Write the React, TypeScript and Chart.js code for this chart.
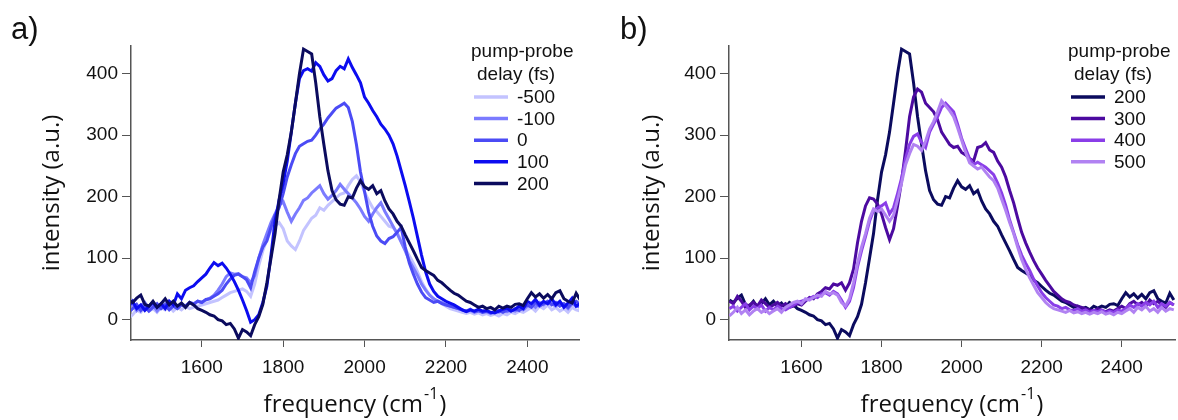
import React, { useEffect, useRef } from "react";
import { Chart, registerables } from "chart.js";

Chart.register(...registerables);

// frequency axis (cm^-1)
const freq = [
  1420, 1430, 1440, 1450, 1460, 1470, 1480, 1490, 1500, 1510,
  1520, 1530, 1540, 1550, 1560, 1570, 1580, 1590, 1600, 1610,
  1620, 1630, 1640, 1650, 1660, 1670, 1680, 1690, 1700, 1710,
  1720, 1730, 1740, 1750, 1760, 1770, 1780, 1790, 1800, 1810,
  1820, 1830, 1840, 1850, 1860, 1870, 1880, 1890, 1900, 1910,
  1920, 1930, 1940, 1950, 1960, 1970, 1980, 1990, 2000, 2010,
  2020, 2030, 2040, 2050, 2060, 2070, 2080, 2090, 2100, 2110,
  2120, 2130, 2140, 2150, 2160, 2170, 2180, 2190, 2200, 2210,
  2220, 2230, 2240, 2250, 2260, 2270, 2280, 2290, 2300, 2310,
  2320, 2330, 2340, 2350, 2360, 2370, 2380, 2390, 2400, 2410,
  2420, 2430, 2440, 2450, 2460, 2470, 2480, 2490, 2500, 2510,
  2520, 2530,
];

const delayM500 = [
  2, 8, 16, 12, 20, 14, 18, 12, 20, 16,
  22, 14, 20, 16, 22, 18, 20, 22, 24, 26,
  28, 30, 32, 36, 40, 44, 46, 48, 50, 46,
  38, 58, 88, 112, 130, 145, 152, 158, 148, 128,
  120, 114, 128, 145, 155, 165, 170, 182, 178, 186,
  192, 198, 204, 206, 218, 228, 234, 224, 208, 194,
  182, 176, 168, 160, 152, 150, 142, 128, 115, 104,
  92, 78, 62, 50, 40, 34, 30, 26, 22, 18,
  16, 14, 12, 10, 12, 9, 11, 8, 10, 7,
  9, 6, 10, 8, 12, 10, 14, 12, 16, 20,
  14, 22, 18, 24, 16, 20, 14, 18, 12, 20,
  16, 14,
];

const delayM100 = [
  20, 26, 15, 22, 28, 18, 24, 14, 22, 26,
  18, 24, 20, 26, 22, 28, 24, 30, 28, 32,
  35, 40, 48, 58, 70, 76, 74, 75, 70, 68,
  60, 72, 100, 122, 140, 158, 172, 186, 192, 175,
  160, 172, 182, 194, 198, 206, 212, 218, 205, 196,
  202, 210, 220, 212, 205, 198, 190, 180, 168, 160,
  172, 182, 190, 176, 164, 152, 140, 126, 112, 96,
  84, 72, 58, 48, 40, 34, 30, 28, 25, 22,
  20, 18, 16, 14, 15, 12, 14, 12, 13, 10,
  14, 12, 15, 13, 16, 14, 18, 16, 22, 26,
  20, 28, 24, 30, 26, 22, 28, 24, 18, 26,
  22, 20,
];

const delay0 = [
  12, 18, 25, 15, 22, 14, 20, 26, 18, 24,
  16, 22, 18, 24, 22, 28, 26, 30, 28, 33,
  34, 38, 42, 48, 58, 66, 72, 74, 70, 65,
  52, 78, 100, 118, 128, 150, 170, 182, 205, 232,
  252, 270, 282, 286, 290, 292, 300, 310, 318, 328,
  336, 344, 348, 352, 345, 322, 285, 240, 208, 175,
  152, 136, 128, 124, 132, 135, 142, 150, 118, 92,
  74, 58, 45, 36, 32, 28, 30, 26, 24, 22,
  20, 18, 16, 14, 17, 13, 15, 12, 14, 11,
  13, 15, 12, 16, 14, 18, 15, 20, 24, 20,
  28, 22, 26, 30, 24, 28, 22, 26, 20, 28,
  30, 24,
];

const delay100 = [
  22, 30, 18, 24, 15, 22, 28, 20, 26, 18,
  30, 24, 42, 34, 48, 52, 55, 62, 68, 74,
  84, 93, 88, 92, 84, 74, 62, 48, 32, 15,
  -4, 0, 8, 28, 55, 105, 160, 195, 222, 258,
  305, 352, 392, 405, 408, 404, 418, 412, 398, 388,
  392, 405, 412, 408, 424, 410, 398, 385, 362, 352,
  340, 330, 318, 310, 300, 286, 266, 242, 218, 192,
  165, 135, 105, 78, 58, 46, 38, 34, 30, 27,
  24, 20, 16, 13, 16, 14, 17, 14, 15, 12,
  11, 14, 17, 19, 14, 17, 22, 18, 30, 26,
  33, 24, 30, 26, 34, 24, 30, 20, 27, 35,
  22, 26,
];

const delay200 = [
  32, 28, 35, 40, 25, 22, 30, 20, 26, 34,
  24, 30, 22, 27, 20, 28, 24, 18, 15, 12,
  8, 6, 0, -2, -8, -6, -15, -30, -16, -20,
  -26, -8, 5, 25, 60, 100, 140, 195, 240, 268,
  305, 352, 400, 440, 436, 432, 385, 330, 285, 242,
  210, 195, 188, 186, 200, 198, 214, 226, 216, 212,
  218, 205, 210, 193, 180, 172, 160, 152, 138, 125,
  112, 98, 85, 80, 76, 72, 64, 60, 54, 48,
  43, 40, 35, 30, 28, 24, 20, 22, 18, 20,
  16, 22, 19, 22, 20, 25, 26, 23, 34, 44,
  37, 42, 35, 41, 34, 44, 47, 34, 30, 27,
  43, 32,
];

const delay300 = [
  30, 26, 38, 30, 20, 24, 28, 22, 32, 26,
  20, 24, 28, 22, 26, 20, 22, 26, 24, 30,
  36, 34, 42, 46, 52, 50, 58, 56, 60, 48,
  60, 82, 125, 160, 185, 198, 196, 188, 172, 150,
  130, 148, 185, 225, 275, 330, 362, 375, 370, 352,
  345, 338, 325, 305, 295, 285, 280, 282, 272, 268,
  262, 258, 280, 282, 288, 276, 272, 258, 248, 232,
  210, 190, 165, 142, 125, 110, 96, 84, 74, 64,
  55, 46, 40, 34, 30, 28, 24, 22, 20, 18,
  16, 14, 18, 15, 13, 16, 14, 18, 22, 18,
  26, 30, 24, 28, 22, 32, 26, 30, 24, 20,
  28, 24,
];

const delay400 = [
  18, 22, 14, 20, 26, 16, 22, 18, 24, 14,
  20, 16, 22, 18, 16, 20, 24, 28, 30, 32,
  34, 38, 36, 42, 44, 40, 46, 42, 32, 20,
  30, 52, 86, 112, 135, 160, 178, 182, 185, 190,
  172, 182, 205, 230, 262, 285, 298, 302, 288, 280,
  305, 318, 330, 345, 352, 345, 338, 318, 295, 278,
  262, 252, 256, 252, 248, 242, 236, 222, 206, 186,
  162, 142, 122, 105, 92, 80, 66, 55, 44, 36,
  30, 24, 22, 18, 20, 16, 15, 18, 14, 16,
  12, 15, 13, 16, 12, 14, 12, 16, 14, 18,
  24, 20, 26, 22, 28, 24, 30, 20, 26, 22,
  28, 24,
];

const delay500 = [
  6, 12, 20, 10, 16, 8, 14, 18, 12, 16,
  10, 14, 18, 12, 20, 24, 28, 30, 26, 34,
  32, 36, 40, 38, 46, 42, 44, 40, 28, 22,
  34, 60, 92, 118, 140, 165, 180, 176, 180, 170,
  160, 170, 195, 222, 252, 270, 285, 282, 275, 290,
  310, 322, 338, 356, 348, 340, 330, 312, 292, 272,
  255, 250, 245, 248, 240, 232, 226, 214, 196, 178,
  158, 140, 118, 98, 82, 68, 56, 44, 36, 28,
  22, 18, 16, 14, 12, 15, 11, 13, 10, 12,
  9, 12, 10, 13, 9, 11, 8, 12, 10, 14,
  18, 12, 20, 16, 22, 14, 18, 12, 20, 14,
  18, 16,
];

const xTicks = [1600, 1800, 2000, 2200, 2400];
const yTicks = [0, 100, 200, 300, 400];

const labelsA = ["-500", "-100", "0", "100", "200"];
const labelsB = ["200", "300", "400", "500"];

const TICK_FONT = "'Liberation Sans', Arial, sans-serif";
const TITLE_FONT = "'Open Sans', 'Noto Sans', sans-serif";

type Series = { label: string; values: number[]; color: string };

function makeChart(
  canvas: HTMLCanvasElement,
  panel: string,
  series: Series[],
  xMin: number,
  xMax: number,
  yAxisWidth: number,
  rightPad: number,
  legendX: number
) {
  const textPlugin = {
    id: "texts" + panel,
    afterDraw(chart: any) {
      const ctx = chart.ctx as CanvasRenderingContext2D;
      const area = chart.chartArea;
      ctx.save();
      // panel label
      ctx.fillStyle = "#111";
      ctx.font = "31px " + TICK_FONT;
      ctx.textAlign = "left";
      ctx.textBaseline = "alphabetic";
      ctx.fillText(panel + ")", panel === "a" ? 11 : 20, 39);

      // y title
      ctx.save();
      ctx.translate(52, (area.top + area.bottom) / 2);
      ctx.rotate(-Math.PI / 2);
      ctx.font = "24px " + TITLE_FONT;
      ctx.textAlign = "center";
      ctx.textBaseline = "middle";
      ctx.fillText("intensity (a.u.)", 0, 0);
      ctx.restore();

      // x title with superscript
      const main = "frequency (cm";
      const sup = "-1";
      const close = ")";
      ctx.font = "24px " + TITLE_FONT;
      const wMain = ctx.measureText(main).width;
      const wClose = ctx.measureText(close).width;
      ctx.font = "16px " + TITLE_FONT;
      const wSup = ctx.measureText(sup).width;
      const total = wMain + wSup + 2 + wClose;
      const x0 = (area.left + area.right) / 2 - total / 2;
      const base = 412;
      ctx.textAlign = "left";
      ctx.textBaseline = "alphabetic";
      ctx.font = "24px " + TITLE_FONT;
      ctx.fillText(main, x0, base);
      ctx.font = "16px " + TITLE_FONT;
      ctx.fillText(sup, x0 + wMain + 1, base - 13);
      ctx.font = "24px " + TITLE_FONT;
      ctx.fillText(close, x0 + wMain + wSup + 2, base);

      // legend
      ctx.fillStyle = "#111";
      ctx.font = "19px " + TICK_FONT;
      ctx.textAlign = "left";
      ctx.textBaseline = "middle";
      ctx.fillText("pump-probe", legendX - 2, 52);
      ctx.fillText("delay (fs)", legendX + 4, 75);
      series.forEach((s, i) => {
        const y = 97 + i * 21.6;
        ctx.strokeStyle = s.color;
        ctx.lineWidth = 3.5;
        ctx.beginPath();
        ctx.moveTo(legendX + 1, y);
        ctx.lineTo(legendX + 35, y);
        ctx.stroke();
        ctx.fillStyle = "#111";
        ctx.fillText(s.label, legendX + 44, y + 1);
      });
      ctx.restore();
    },
  };

  const n = series.length;
  return new Chart(canvas, {
    type: "line",
    data: {
      datasets: series.map((s, i) => ({
        label: s.label,
        data: freq.map((f, k) => ({ x: f, y: s.values[k] })),
        borderColor: s.color,
        backgroundColor: s.color,
        borderWidth: 3,
        pointRadius: 0,
        tension: 0,
        fill: false,
        order: n - i,
      })),
    },
    options: {
      animation: false,
      responsive: false,
      devicePixelRatio: 1,
      layout: { padding: { left: 0, right: rightPad, top: 46, bottom: 0 } },
      plugins: { legend: { display: false }, tooltip: { enabled: false } },
      scales: {
        x: {
          type: "linear",
          min: xMin,
          max: xMax,
          afterBuildTicks: (s: any) => {
            s.ticks = xTicks.map((v) => ({ value: v }));
          },
          afterFit: (s: any) => {
            s.height = 80;
          },
          grid: { drawOnChartArea: false, tickLength: 7, color: "#555", lineWidth: 1 },
          border: { color: "#555", width: 1.5 },
          ticks: {
            font: { family: TICK_FONT, size: 19 },
            color: "#111",
            padding: 9,
            maxRotation: 0,
            callback: (v: any) => String(v),
          },
        },
        y: {
          type: "linear",
          min: -33,
          max: 445,
          afterBuildTicks: (s: any) => {
            s.ticks = yTicks.map((v) => ({ value: v }));
          },
          afterFit: (s: any) => {
            s.width = yAxisWidth;
          },
          grid: { drawOnChartArea: false, tickLength: 9, color: "#555", lineWidth: 1 },
          border: { color: "#555", width: 1.5 },
          ticks: {
            font: { family: TICK_FONT, size: 19 },
            color: "#111",
            padding: 4,
            callback: (v: any) => String(v),
          },
        },
      },
    },
    plugins: [textPlugin],
  } as any);
}

export default function App() {
  const refA = useRef<HTMLCanvasElement>(null);
  const refB = useRef<HTMLCanvasElement>(null);

  useEffect(() => {
    const seriesA: Series[] = [
      { label: labelsA[0], values: delayM500, color: "#c3c3ff" },
      { label: labelsA[1], values: delayM100, color: "#7b7bff" },
      { label: labelsA[2], values: delay0, color: "#4b4bf5" },
      { label: labelsA[3], values: delay100, color: "#0c0cf0" },
      { label: labelsA[4], values: delay200, color: "#0b0b5e" },
    ];
    const seriesB: Series[] = [
      { label: labelsB[0], values: delay200, color: "#0b0b5e" },
      { label: labelsB[1], values: delay300, color: "#4c0aa0" },
      { label: labelsB[2], values: delay400, color: "#8a3ee8" },
      { label: labelsB[3], values: delay500, color: "#b182f2" },
    ];
    const a = makeChart(refA.current!, "a", seriesA, 1426, 2527, 131, 21, 473);
    const b = makeChart(refB.current!, "b", seriesB, 1419, 2533, 129, 3, 470);
    return () => {
      a.destroy();
      b.destroy();
    };
  }, []);

  return (
    <div style={{ position: "absolute", left: 0, top: 0, width: 1178, height: 420, background: "#fff" }}>
      <canvas ref={refA} width={600} height={420} style={{ position: "absolute", left: 0, top: 0, width: 600, height: 420 }} />
      <canvas ref={refB} width={578} height={420} style={{ position: "absolute", left: 600, top: 0, width: 578, height: 420 }} />
    </div>
  );
}
